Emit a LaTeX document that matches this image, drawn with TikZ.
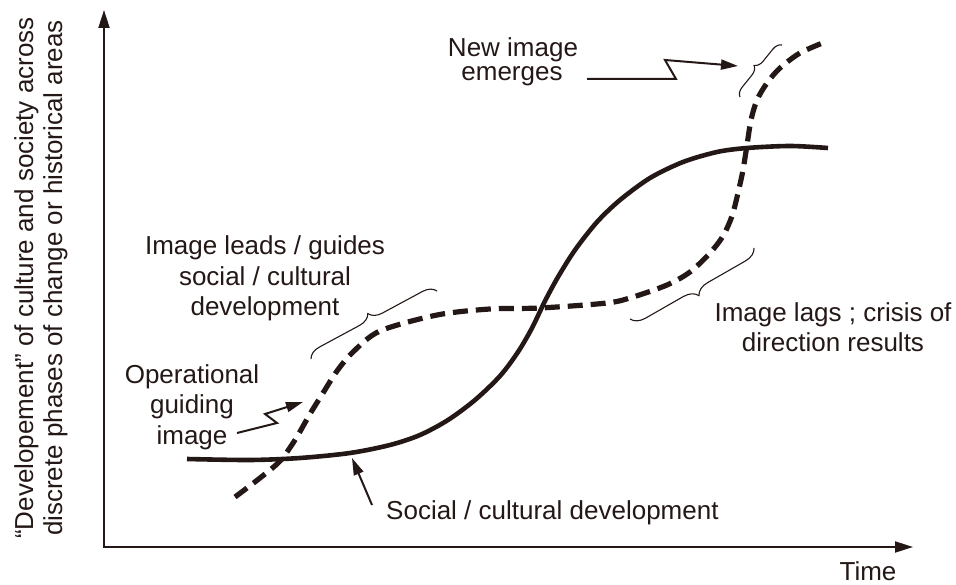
\documentclass[tikz,border=0pt]{standalone}
\usepackage{fontspec}
\setmainfont{Liberation Sans}
\usetikzlibrary{arrows.meta,decorations.pathreplacing}
\definecolor{ink}{HTML}{231815}
\begin{document}
\begin{tikzpicture}[x=1pt,y=-1pt,
  lbl/.style={font=\fontsize{26}{30}\selectfont, text=ink, inner sep=0pt, anchor=base},
  axisline/.style={draw=ink, line width=2pt, line join=miter,
     {Triangle[length=18pt,width=11pt]}-{Triangle[length=18pt,width=11pt]}},
  solidcurve/.style={draw=ink, line width=4.6pt},
  dashcurve/.style={draw=ink, line width=5.2pt, dash pattern=on 15pt off 8pt},
  pointer/.style={draw=ink, line width=2pt, line join=miter, -{Triangle[length=17pt,width=10pt]}},
  bracestyle/.style={draw=ink, line width=1.1pt, decorate, decoration={brace, amplitude=#1}},
]
\useasboundingbox (0,0) rectangle (956,585);

% axes
\coordinate (ytop) at (104,10);
\coordinate (O) at (104,547);
\coordinate (xend) at (913,547);
\draw[axisline] (ytop) -- (O) -- (xend);

% axis labels
\node[lbl, rotate=90] (ylab1) at (33,278) {“Developement” of culture and society across};
\node[lbl, rotate=90] (ylab2) at (62,278) {discrete phases of change or historical areas};
\node[lbl] (time) at (868,580) {Time};

% solid curve: social / cultural development
\draw[solidcurve] plot[smooth, tension=0.5] coordinates {
 (187,459) (250,460) (300,458) (350,453) (390,445) (420,435) (448,420)
 (475,400) (500,376) (518,352) (532,328) (545,301) (558,277) (575,250)
 (597,222) (620,200) (650,178) (683,162) (717,152) (747,148) (790,146) (828,148)};

% dashed curve: guiding image
\draw[dashcurve] plot[smooth, tension=0.5] coordinates {
 (235,497) (260,478) (280,461) (295,440) (310,414) (323,393) (337,371)
 (353,352) (380,331) (437,315) (490,309) (540,308) (607,303) (633,297)
 (667,285) (690,272) (710,253) (723,236) (732,216) (738,193) (743,170)
 (747,145) (751,120) (757,100) (767,83) (780,68) (800,53) (825,42)};

% braces
\coordinate (bl1) at (311,359); \coordinate (bl2) at (437,291);
\draw[bracestyle=13pt] (bl1) -- (bl2);
\coordinate (bg1) at (754,248); \coordinate (bg2) at (630,319);
\draw[bracestyle=14pt] (bg1) -- (bg2);
\coordinate (bn1) at (740,97); \coordinate (bn2) at (782,45);
\draw[bracestyle=9pt] (bn1) -- (bn2);

% texts
\node[lbl] (leads1) at (265,255) {Image leads / guides};
\node[lbl] (leads2) at (265,285.5) {social / cultural};
\node[lbl] (leads3) at (265,316) {development};

\node[lbl] (op1) at (192,383) {Operational};
\node[lbl] (op2) at (192,413) {guiding};
\node[lbl] (op3) at (192,444) {image};

\node[lbl] (new1) at (513,57) {New image};
\node[lbl] (new2) at (512,81) {emerges};

\node[lbl] (lags1) at (833,322) {Image lags ; crisis of};
\node[lbl] (lags2) at (833,352) {direction results};

\node[lbl, anchor=base west] (social) at (386,519) {Social / cultural development};

% pointers
\coordinate (pn0) at (587,79);
\coordinate (pnt) at (738,66);
\draw[pointer] (pn0) -- (676,79) -- (665,60) -- (pnt);

\coordinate (po0) at (237,433);
\coordinate (pot) at (303,402);
\draw[pointer] (po0) -- (277,423) -- (265,414) -- (pot);

\coordinate (ps0) at (372,505);
\coordinate (pst) at (352,458);
\draw[pointer] (ps0) -- (pst);
\end{tikzpicture}
\end{document}
